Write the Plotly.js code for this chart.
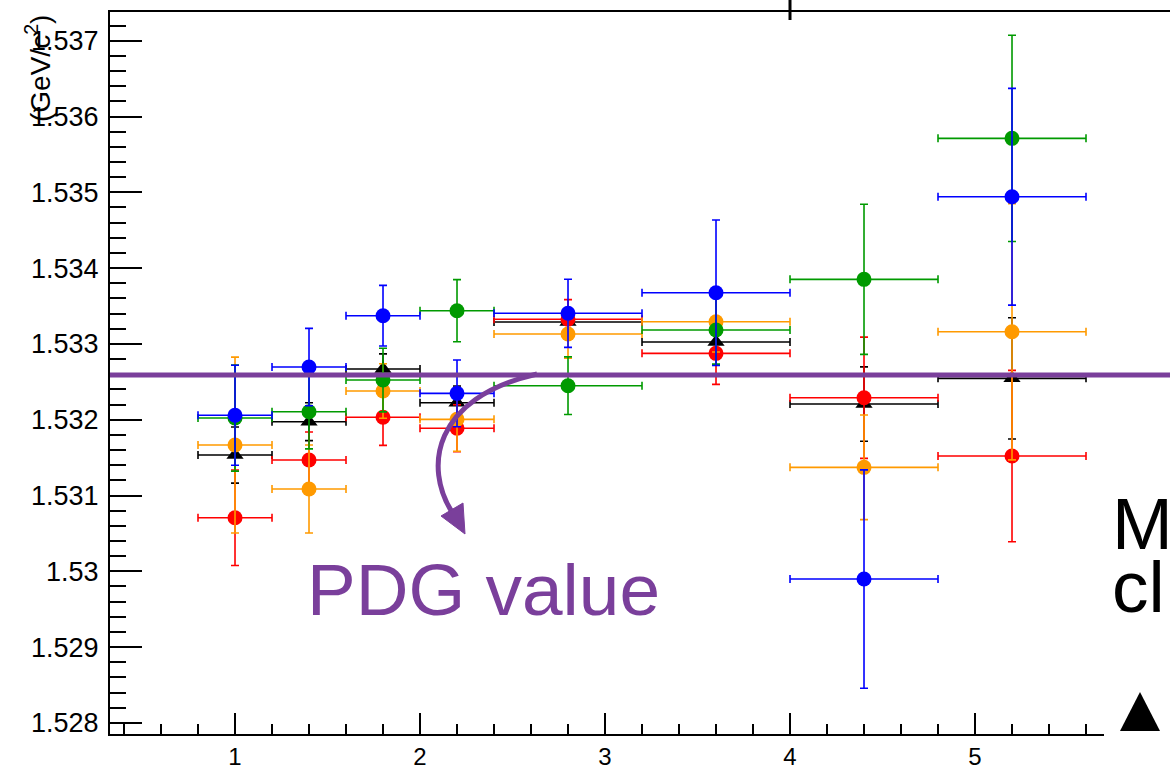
<!DOCTYPE html>
<html>
<head>
<meta charset="utf-8">
<script src="https://cdn.plot.ly/plotly-3.0.1.min.js"></script>
<style>
html,body{margin:0;padding:0;background:#fff;overflow:hidden;}
#chart{width:1170px;height:770px;}
</style>
</head>
<body>
<div id="chart"></div>
<script>
// ---- data ----
const xCenters   = [1, 1.4, 1.8, 2.2, 2.8, 3.6, 4.4, 5.2];
const xHalfWidth = [0.2, 0.2, 0.2, 0.2, 0.4, 0.4, 0.4, 0.4];

const blackY   = [1.531534, 1.531974, 1.532669, 1.532224, 1.533289, 1.533025, 1.532207, 1.532546];
const blackErr = [0.00037, 0.00025, 0.00020, 0.00022, 0.00015, 0.00022, 0.00049, 0.00080];

const redY   = [1.530707, 1.531468, 1.532032, 1.531887, 1.533325, 1.532876, 1.532290, 1.531521];
const redErr = [0.00063, 0.00037, 0.00037, 0.00031, 0.00026, 0.00041, 0.00080, 0.00113];

const orangeY   = [1.531666, 1.531086, 1.532379, 1.532005, 1.533131, 1.533293, 1.531372, 1.533161];
const orangeErr = [0.00116, 0.00058, 0.00036, 0.00042, 0.00032, 0.00040, 0.00069, 0.00169];

const greenY   = [1.532022, 1.532106, 1.532524, 1.533438, 1.532449, 1.533183, 1.533852, 1.535712];
const greenErr = [0.00070, 0.00049, 0.00042, 0.00041, 0.00038, 0.00045, 0.00099, 0.00136];

const blueY   = [1.532059, 1.532695, 1.533372, 1.532348, 1.533404, 1.533675, 1.529898, 1.534942];
const blueErr = [0.00066, 0.00051, 0.00040, 0.00044, 0.00045, 0.00096, 0.00144, 0.00143];

const pdgValue = 1.53259;
const pdgLabel = "PDG value";
const yTitle = "(GeV/c<sup>2</sup>)";
const legendFragments = ["M", "cl"];

// ---- styling ----
const PURPLE = "#7a3f9b";
const W = 1170, H = 770, ML = 110, MR = 0, MT = 12, MB = 36;
const PW = W - ML - MR, PH = H - MT - MB;
const px = x => (x - ML) / PW;          // pixel -> paper x
const py = y => (H - MB - y) / PH;      // pixel -> paper y
const XR = [0.3243, 6.054], YR = [1.527854, 1.537379];
const dx = x => XR[0] + (x - ML) / PW * (XR[1] - XR[0]);
const dy = y => YR[1] - (y - MT) / PH * (YR[1] - YR[0]);

function series(y, err, color, symbol, size) {
  return {
    type: "scatter", mode: "markers", x: xCenters, y: y,
    marker: {color: color, symbol: symbol, size: size, line: {width: 0}},
    error_y: {type: "data", array: err, visible: true, color: color, thickness: 1.6, width: 4},
    error_x: {type: "data", array: xHalfWidth, visible: true, color: color, thickness: 1.6, width: 4},
    hoverinfo: "x+y", showlegend: false, cliponaxis: false
  };
}

const traces = [
  series(blackY, blackErr, "#000000", "triangle-up", 15),
  series(redY, redErr, "#ff0000", "circle", 15),
  series(orangeY, orangeErr, "#ff9a00", "circle", 15),
  series(greenY, greenErr, "#009a00", "circle", 15),
  series(blueY, blueErr, "#0000ff", "circle", 15)
];

const HELV = "Liberation Sans, Arial, Helvetica, sans-serif";
const tickFont = {family: HELV, size: 27, color: "#000"};
const bigFont = (size, color) => ({family: HELV, size: size, color: color});

const arrowPath = "M " + dx(537) + "," + dy(374) +
  " C " + dx(432) + "," + dy(398) + " " + dx(424) + "," + dy(468) + " " + dx(452) + "," + dy(512);
const headPath = "M " + dx(465) + "," + dy(534) + " L " + dx(441) + "," + dy(516) +
  " L " + dx(463) + "," + dy(503) + " Z";
const triPath = "M " + px(1120) + "," + py(731) + " L " + px(1160) + "," + py(731) +
  " L " + px(1140) + "," + py(692) + " Z";

const layout = {
  width: W, height: H,
  margin: {l: ML, r: MR, t: MT, b: MB, pad: 0},
  paper_bgcolor: "#ffffff", plot_bgcolor: "#ffffff",
  showlegend: false,
  xaxis: {
    range: XR, autorange: false, tick0: 0, dtick: 1,
    ticks: "inside", ticklen: 21, tickwidth: 2, tickcolor: "#000",
    minor: {ticks: "inside", tick0: 0, dtick: 0.2, ticklen: 10, tickwidth: 2, tickcolor: "#000", showgrid: false},
    showline: true, linewidth: 2, linecolor: "#000", mirror: true,
    showgrid: false, zeroline: false, tickfont: {family: HELV, size: 24, color: "#000"}, ticklabelstandoff: 0
  },
  yaxis: {
    range: YR, autorange: false, tick0: 1.528, dtick: 0.001, tickformat: ".3~f",
    ticks: "inside", ticklen: 32, tickwidth: 2, tickcolor: "#000",
    minor: {ticks: "inside", tick0: 1.528, dtick: 0.0002, ticklen: 16, tickwidth: 2, tickcolor: "#000", showgrid: false},
    showline: true, linewidth: 2, linecolor: "#000", mirror: false,
    showgrid: false, zeroline: false, tickfont: tickFont, ticklabelstandoff: 4
  },
  shapes: [
    {type: "rect", xref: "paper", yref: "paper", x0: px(1104), x1: px(1175), y0: py(775), y1: py(420),
     fillcolor: "#ffffff", line: {width: 0}, layer: "above"},
    {type: "line", xref: "paper", yref: "y", x0: 0, x1: 1, y0: pdgValue, y1: pdgValue,
     line: {color: PURPLE, width: 5}, layer: "above"},
    {type: "path", xref: "x", yref: "y", path: arrowPath, line: {color: PURPLE, width: 5}, layer: "above"},
    {type: "path", xref: "x", yref: "y", path: headPath, fillcolor: PURPLE, line: {color: PURPLE, width: 1}, layer: "above"},
    {type: "line", xref: "paper", yref: "paper", x0: px(790), x1: px(790), y0: py(0), y1: py(20),
     line: {color: "#000", width: 3}, layer: "above"},
    {type: "path", xref: "paper", yref: "paper", path: triPath, fillcolor: "#000", line: {color: "#000", width: 0}, layer: "above"}
  ],
  annotations: [
    {text: pdgLabel, xref: "paper", yref: "paper", x: px(305), y: py(589), xanchor: "left", yanchor: "middle",
     showarrow: false, font: bigFont(73, PURPLE)},
    {text: legendFragments[0], xref: "paper", yref: "paper", x: px(1110), y: py(523), xanchor: "left", yanchor: "middle",
     showarrow: false, font: bigFont(73, "#000")},
    {text: legendFragments[1], xref: "paper", yref: "paper", x: px(1110), y: py(586), xanchor: "left", yanchor: "middle",
     showarrow: false, font: bigFont(73, "#000")},
    {text: yTitle, xref: "paper", yref: "paper", x: px(38), y: py(69), xanchor: "center", yanchor: "middle",
     textangle: -90, showarrow: false, font: {family: HELV, size: 28, color: "#000"}}
  ]
};

Plotly.newPlot("chart", traces, layout, {displayModeBar: false, staticPlot: true});
</script>
</body>
</html>
